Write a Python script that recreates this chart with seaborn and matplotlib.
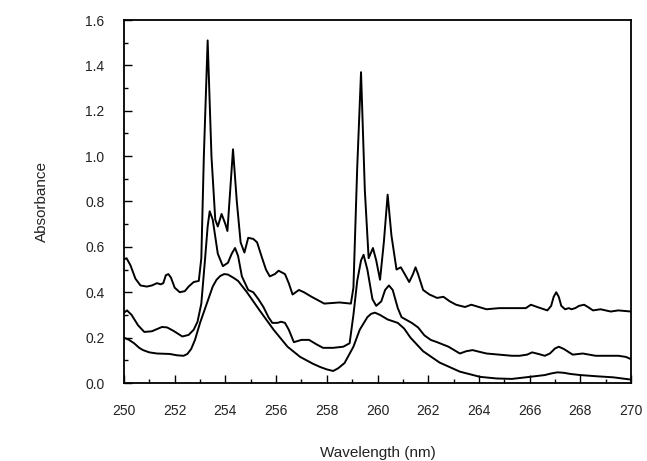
import matplotlib
matplotlib.use("Agg")
import matplotlib.pyplot as plt
import seaborn as sns
import pandas as pd
from matplotlib.ticker import MultipleLocator

sns.set_theme(style="ticks")
plt.rcParams['font.family'] = ['Liberation Sans', 'DejaVu Sans']

# Top spectrum
wl_a = [250.0, 250.1, 250.25, 250.45, 250.65, 250.9, 251.1, 251.3, 251.45, 251.55, 251.65,
        251.75, 251.85, 252.0, 252.2, 252.4, 252.55, 252.75, 252.95, 253.05, 253.15, 253.3,
        253.45, 253.6, 253.7, 253.85, 254.0, 254.08, 254.3, 254.45, 254.6, 254.75, 254.9,
        255.1, 255.25, 255.45, 255.6, 255.75, 255.95, 256.1, 256.35, 256.5, 256.65, 256.9,
        257.1, 257.4, 257.9, 258.5, 258.95, 259.05, 259.2, 259.35, 259.5, 259.65, 259.82,
        259.95, 260.1, 260.25, 260.4, 260.55, 260.75, 260.92, 261.1, 261.25, 261.4, 261.5,
        261.6, 261.8, 262.05, 262.35, 262.6, 262.85, 263.1, 263.45, 263.7, 264.0, 264.3,
        264.8, 265.5, 265.85, 266.05, 266.3, 266.7, 266.85, 266.95, 267.05, 267.15, 267.25,
        267.4, 267.55, 267.65, 267.8, 267.95, 268.15, 268.3, 268.5, 268.8, 269.2, 269.5, 270.0]
ab_a = [0.545, 0.55, 0.52, 0.46, 0.43, 0.425, 0.43, 0.44, 0.435, 0.44, 0.475,
        0.48, 0.465, 0.42, 0.40, 0.405, 0.425, 0.445, 0.45, 0.55, 1.0, 1.51,
        1.0, 0.72, 0.69, 0.745, 0.70, 0.67, 1.03, 0.80, 0.62, 0.575, 0.64,
        0.635, 0.62, 0.55, 0.50, 0.47, 0.48, 0.495, 0.48, 0.44, 0.39, 0.41,
        0.40, 0.38, 0.35, 0.355, 0.35, 0.42, 0.95, 1.37, 0.85, 0.55, 0.595,
        0.54, 0.455, 0.62, 0.83, 0.65, 0.50, 0.51, 0.475, 0.445, 0.48, 0.51,
        0.48, 0.41, 0.39, 0.375, 0.38, 0.36, 0.345, 0.335, 0.345, 0.335, 0.325,
        0.33, 0.33, 0.33, 0.345, 0.335, 0.32, 0.34, 0.38, 0.40, 0.38, 0.34,
        0.325, 0.33, 0.325, 0.33, 0.34, 0.345, 0.335, 0.32, 0.325, 0.315, 0.32, 0.315]

# Middle spectrum
wl_b = [250.0, 250.12, 250.3, 250.55, 250.8, 251.1, 251.35, 251.5, 251.7, 251.95, 252.3,
        252.55, 252.75, 252.9, 253.05, 253.2, 253.3, 253.38, 253.5, 253.7, 253.9, 254.1,
        254.25, 254.38, 254.5, 254.65, 254.9, 255.1, 255.3, 255.5, 255.7, 255.85, 256.05,
        256.2, 256.35, 256.5, 256.7, 257.0, 257.3, 257.6, 257.85, 258.25, 258.65, 258.9,
        259.05, 259.2, 259.35, 259.45, 259.6, 259.8, 259.95, 260.15, 260.3, 260.45, 260.6,
        260.8, 260.95, 261.35, 261.6, 261.85, 262.1, 262.35, 262.8, 263.25, 263.5, 263.75,
        264.0, 264.3, 264.8, 265.3, 265.6, 265.9, 266.1, 266.35, 266.6, 266.8, 267.0,
        267.15, 267.35, 267.7, 268.1, 268.6, 269.0, 269.5, 269.8, 270.0]
ab_b = [0.31, 0.32, 0.30, 0.255, 0.225, 0.228, 0.24, 0.247, 0.245, 0.23, 0.205,
        0.212, 0.235, 0.27, 0.35, 0.55, 0.69, 0.757, 0.72, 0.57, 0.515, 0.53,
        0.57, 0.595, 0.56, 0.47, 0.41, 0.40, 0.37, 0.335, 0.29, 0.265, 0.265,
        0.27, 0.265, 0.235, 0.18, 0.19, 0.19, 0.17, 0.155, 0.155, 0.16, 0.175,
        0.30, 0.45, 0.54, 0.565, 0.50, 0.37, 0.34, 0.36, 0.41, 0.43, 0.41,
        0.33, 0.29, 0.265, 0.245, 0.21, 0.19, 0.18, 0.16, 0.13, 0.14, 0.145,
        0.138, 0.13, 0.125, 0.12, 0.12, 0.125, 0.135, 0.128, 0.12, 0.13, 0.152,
        0.16, 0.15, 0.125, 0.13, 0.12, 0.12, 0.12, 0.115, 0.105]

# Bottom spectrum
wl_c = [250.0, 250.2, 250.4, 250.6, 250.75, 251.0, 251.3, 251.8, 252.1, 252.35, 252.5,
        252.65, 252.8, 253.0, 253.25, 253.5, 253.65, 253.8, 253.95, 254.1, 254.3, 254.5,
        254.85, 255.35, 255.9, 256.45, 256.95, 257.45, 257.75, 258.0, 258.25, 258.45, 258.7,
        259.05, 259.3, 259.6, 259.75, 259.9, 260.1, 260.4, 260.8, 261.05, 261.3, 261.8,
        262.45, 263.25, 264.05, 264.7, 265.3, 266.0, 266.6, 266.85, 267.1, 267.35, 267.6,
        268.0, 268.6, 269.3, 270.0]
ab_c = [0.20, 0.19, 0.175, 0.155, 0.145, 0.135, 0.13, 0.128, 0.122, 0.12, 0.128,
        0.15, 0.19, 0.265, 0.345, 0.425, 0.455, 0.472, 0.48, 0.478, 0.465, 0.45,
        0.40, 0.32, 0.235, 0.16, 0.115, 0.085, 0.07, 0.06, 0.053, 0.065, 0.088,
        0.16, 0.235, 0.29, 0.305, 0.31, 0.30, 0.28, 0.265, 0.24, 0.20, 0.14,
        0.09, 0.05, 0.027, 0.02, 0.018, 0.027, 0.035, 0.042, 0.047, 0.045, 0.04,
        0.035, 0.03, 0.025, 0.015]

fig = plt.figure(figsize=(6.47, 4.61), dpi=100)
ax = fig.add_axes([124/647, 1-383/461, (631-124)/647, (383-20)/461])

for wl, ab in [(wl_a, ab_a), (wl_b, ab_b), (wl_c, ab_c)]:
    df = pd.DataFrame({"wl": wl, "ab": ab})
    sns.lineplot(data=df, x="wl", y="ab", ax=ax, color="black", lw=1.4,
                 estimator=None, sort=False)

ax.set_xlim(250, 270)
ax.set_ylim(0, 1.6)
ax.xaxis.set_major_locator(MultipleLocator(2))
ax.xaxis.set_minor_locator(MultipleLocator(1))
ax.yaxis.set_major_locator(MultipleLocator(0.2))
ax.yaxis.set_minor_locator(MultipleLocator(0.1))
ax.yaxis.set_major_formatter(matplotlib.ticker.FormatStrFormatter('%.1f'))
ax.tick_params(which='major', direction='in', length=6, width=1.0, labelsize=10,
               color='black', labelcolor='#222222', top=False, right=False)
ax.tick_params(axis='x', which='major', pad=15)
ax.tick_params(axis='y', which='major', pad=14)
ax.tick_params(which='minor', direction='in', length=3, width=1.0, color='black',
               top=False, right=False)
for s in ax.spines.values():
    s.set_visible(True)
    s.set_color('black')
    s.set_linewidth(1.3)
ax.set_xlabel("Wavelength (nm)", fontsize=11, labelpad=20, color='#222222')
ax.set_ylabel("Absorbance", fontsize=11, labelpad=26, color='#222222')
ax.grid(False)

fig.savefig("out.png", dpi=100)
